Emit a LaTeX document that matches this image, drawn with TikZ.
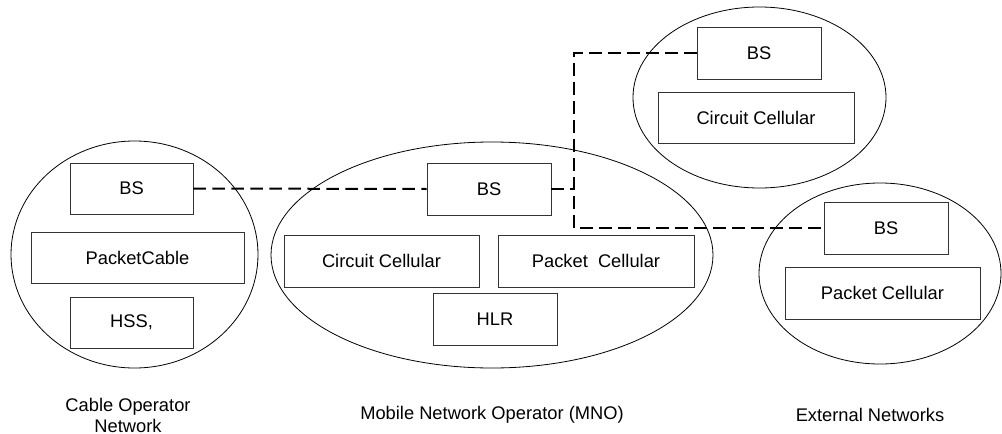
\documentclass[tikz,border=0pt]{standalone}
\usepackage{fontspec}
\setmainfont{Liberation Sans}
\usetikzlibrary{shapes.geometric}
\begin{document}
\begin{tikzpicture}[x=1pt,y=-1pt,
  netcloud/.style={draw=black, line width=0.8pt, ellipse, inner sep=0pt},
  unitbox/.style={draw=black!80, line width=0.9pt, rectangle, inner sep=0pt,
    font=\fontsize{18.3}{21}\selectfont},
  caption/.style={inner sep=0pt, align=center, font=\fontsize{18.3}{21}\selectfont},
  dashlink/.style={draw=black, line width=2pt, dash pattern=on 12.5pt off 6.5pt}]
\useasboundingbox (0,0) rectangle (1002,434);
% clouds
\node[netcloud, minimum width=247pt, minimum height=227pt] (cable) at (134.5,254.5) {};
\node[netcloud, minimum width=442pt, minimum height=226pt] (mno) at (492,255) {};
\node[netcloud, minimum width=253pt, minimum height=181pt] (extc) at (759.5,97.5) {};
\node[netcloud, minimum width=242pt, minimum height=181pt] (extp) at (880,273.5) {};
% cable operator
\node[unitbox, minimum width=123pt, minimum height=51pt] (cBS) at (131.5,188.5) {BS};
\node[unitbox, minimum width=213pt, minimum height=51pt] (cPC) at (137.5,257.5) {PacketCable};
\node[unitbox, minimum width=123pt, minimum height=51pt] (cHSS) at (131.5,322.5) {HSS,};
% MNO
\node[unitbox, minimum width=124pt, minimum height=52pt] (mBS) at (489,189) {BS};
\node[unitbox, minimum width=195pt, minimum height=52pt] (mCC) at (381.5,261) {Circuit Cellular};
\node[unitbox, minimum width=196pt, minimum height=52pt] (mPC) at (596,261) {Packet\ \ Cellular};
\node[unitbox, minimum width=124pt, minimum height=52pt] (mHLR) at (495,319) {HLR};
% external
\node[unitbox, minimum width=124pt, minimum height=52pt] (tBS) at (759,53) {BS};
\node[unitbox, minimum width=196pt, minimum height=51pt] (tCC) at (756,117.5) {Circuit Cellular};
\node[unitbox, minimum width=124pt, minimum height=52pt] (bBS) at (886,228) {BS};
\node[unitbox, minimum width=195pt, minimum height=52pt] (bPC) at (882.5,293) {Packet Cellular};
% captions
\node[caption] (capC) at (128,415) {Cable Operator\\Network};
\node[caption] (capM) at (492,415) {Mobile Network Operator (MNO)};
\node[caption] (capE) at (870,415) {External Networks};
% links
\coordinate (jm) at (574,189);
\coordinate (jb) at (574,228);
\draw[dashlink] (cBS.east) -- (mBS.west);
\draw[dashlink] (mBS.east) -- (jm);
\draw[dashlink] (tBS.west) -| (jb) -- (bBS.west);
\end{tikzpicture}
\end{document}
